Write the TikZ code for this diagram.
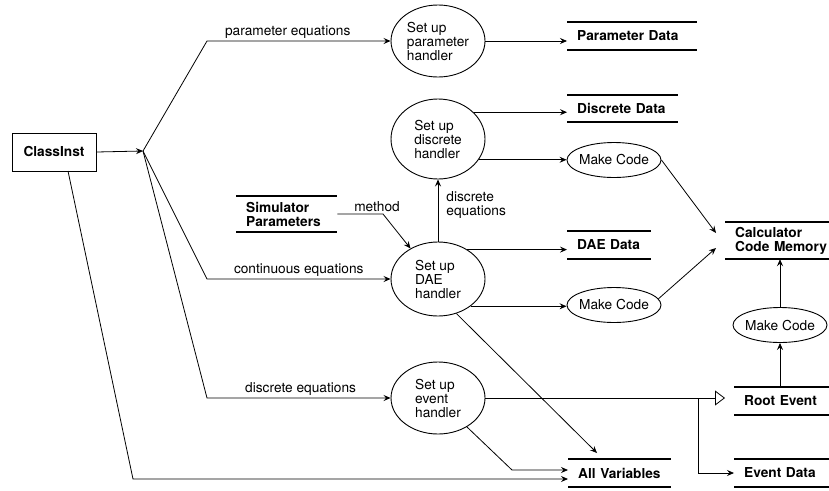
\documentclass[tikz,border=0pt]{standalone}
\usepackage{fontspec}
\setmainfont{TeX Gyre Heros}
\usetikzlibrary{shapes.geometric,arrows.meta,calc}
\begin{document}
\begin{tikzpicture}[x=1pt,y=-1pt,
  every node/.style={font=\fontsize{13.7}{14}\selectfont},
  conn/.style={line width=0.8pt, -{Stealth[length=7pt,width=6pt,inset=2.5pt]}},
  handler/.style={ellipse, draw, line width=0.9pt, minimum width=94, inner sep=0pt, align=left},
  makecode/.style={ellipse, draw, line width=0.9pt, minimum width=94, minimum height=35, inner xsep=-2.5pt, inner ysep=0pt},
  storeline/.style={line width=1.8pt},
  datastore/.style={anchor=west, inner xsep=10pt, inner ysep=0pt, text width=#1, align=left,
    font=\fontsize{13.7}{14}\selectfont\bfseries,
    append after command={(\tikzlastnode.north west) edge[storeline] (\tikzlastnode.north east)
                          (\tikzlastnode.south west) edge[storeline] (\tikzlastnode.south east)}},
  lbl/.style={inner sep=2pt}
]
\useasboundingbox (0,0) rectangle (829,490);

% source box
\node[draw, line width=0.9pt, minimum width=84, minimum height=38, font=\fontsize{13.7}{14}\selectfont\bfseries] (ci) at (54,152) {ClassInst};
\coordinate (br) at (143,151);
\coordinate (bp) at (207,41);
\coordinate (bc) at (207,279);
\coordinate (bd) at (207,398);
\coordinate (cis) at (68,171);
\coordinate (cib) at (133,479);

% handlers
\node[handler, minimum height=72] (param) at (438,41) {Set up\\parameter\\handler};
\node[handler, minimum height=80] (disc) at (438,139) {Set up\\discrete\\handler};
\node[handler, minimum height=74] (dae) at (438,279) {Set up\\DAE\\handler};
\node[handler, minimum height=72] (ev) at (438,398) {Set up\\event\\handler};

% make code
\node[makecode] (md) at (614,160) {Make Code};
\node[makecode] (mdae) at (614,305) {Make Code};
\node[makecode] (mr) at (780,325) {Make Code};

% data stores
\node[datastore=110pt, minimum height=28] (pdata) at (567,36) {Parameter Data};
\node[datastore=91pt, minimum height=27] (ddata) at (567,108.5) {Discrete Data};
\node[datastore=64pt, minimum height=28] (dadata) at (567,245) {DAE Data};
\node[datastore=96pt, minimum height=37] (calc) at (725,240.5) {Calculator\\Code Memory};
\node[datastore=75pt, minimum height=28] (rootev) at (734,401) {Root Event};
\node[datastore=75pt, minimum height=28] (evdata) at (734,473) {Event Data};
\node[datastore=83pt, minimum height=28] (allvar) at (568,473) {All Variables};
\node[datastore=81pt, minimum height=36] (simp) at (236,214) {Simulator\\Parameters};

\coordinate (cin1) at (716,233);
\coordinate (cin2) at (716,248);
\coordinate (avin1) at (597,453);
\coordinate (evb) at (512,470);
\coordinate (sm) at (383,214);
\coordinate (j) at (698,398);

% connectors
\draw[conn] (ci.east) -- (br);
\draw[conn] (br) -- (bp) -- node[lbl, above, pos=0.44] {parameter equations} (param.west);
\draw[conn] (br) -- (bc) -- node[lbl, above, pos=0.5] {continuous equations} (dae.west);
\draw[conn] (br) -- (bd) -- node[lbl, above, pos=0.51] {discrete equations} (ev.west);
\draw[conn] (cis) -- (cib) -- (cib -| allvar.west);

\draw[conn] (param.east) -- (param.east -| pdata.west);
\draw[conn] (disc.37) -- (disc.37 -| ddata.west);
\draw[conn] (disc.-27) -- (disc.-27 -| md.west);
\draw[conn] (md.east) -- (cin1);

\draw[conn] (dae.north) -- node[lbl, right, pos=0.59, xshift=6pt, align=left] {discrete\\equations} (disc.south);
\draw[conn] (simp.east) -- node[lbl, above, pos=0.87] {method} (sm) -- (dae.132);
\draw[conn] (dae.45) -- (dae.45 -| dadata.west);
\draw[conn] (dae.-40) -- (dae.-40 -| mdae.west);
\draw[conn] (mdae.8) -- (cin2);
\draw[conn] (dae.-62) -- (avin1);

\draw[line width=0.8pt, -{Triangle[open, length=10pt, width=15pt, line width=0.8pt]}, shorten >=9pt] (ev.east) -- (ev.east -| rootev.west);
\draw[conn] (j) |- (evdata.west);
\draw[conn] (ev.-45) -- (evb) -- (evb -| allvar.west);

\draw[conn] (mr |- rootev.north) -- (mr.south);
\draw[conn] (mr.north) -- (mr.north |- calc.south);
\end{tikzpicture}
\end{document}
